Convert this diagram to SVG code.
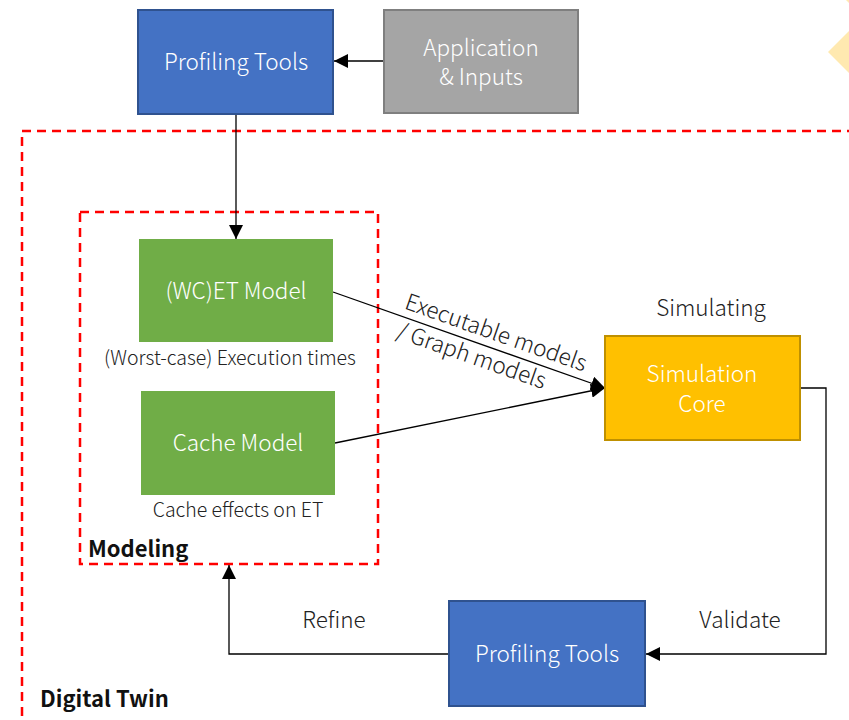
<svg xmlns="http://www.w3.org/2000/svg" width="849" height="720" viewBox="0 0 849 720">
<defs>
<style>
.t{font-family:"Noto Sans CJK SC","Noto Sans",sans-serif;font-weight:300;}
.w{fill:#ffffff;font-size:22.5px;text-anchor:middle;}
.k{fill:#222222;text-anchor:middle;}
.b{font-family:"Noto Sans CJK SC","Noto Sans",sans-serif;font-weight:700;font-size:22px;fill:#111;}
.dash{fill:none;stroke:#FF0000;stroke-width:2.5;stroke-dasharray:9,6;}
.c{fill:none;stroke:#000;stroke-width:1.3;}
</style>
<marker id="ah2" viewBox="0 0 10 10" refX="10" refY="5" markerWidth="14" markerHeight="14" markerUnits="userSpaceOnUse" orient="auto">
<path d="M0,0 L10,5 L0,10 z" fill="#000"/>
</marker>
</defs>
<rect width="849" height="720" fill="#fff"/>
<polygon points="828,52 849,31 849,73" fill="#FFE9B0"/>
<polygon points="846,0 849,0 849,3" fill="#FFE9B0"/>

<g id="frames">
<rect class="dash" x="22" y="131" width="850" height="620"/>
<rect class="dash" x="80" y="212" width="298" height="352"/>
<text class="b" x="88" y="557">Modeling</text>
<text class="b" x="40" y="707">Digital Twin</text>
</g>

<g id="connectors">
<line class="c" x1="384" y1="61" x2="334" y2="61" marker-end="url(#ah2)"/>
<line class="c" x1="236" y1="114" x2="236" y2="239" marker-end="url(#ah2)"/>
<line class="c" x1="333" y1="292" x2="605" y2="388" marker-end="url(#ah2)"/>
<line class="c" x1="335" y1="443" x2="605" y2="388" marker-end="url(#ah2)"/>
<polyline class="c" points="800,388 826,388 826,654 646,654" marker-end="url(#ah2)"/>
<polyline class="c" points="449,654 229,654 229,565" marker-end="url(#ah2)"/>
<g transform="translate(333,292) rotate(19.4)">
<text class="t" fill="#222" x="72" y="-8" font-size="22.5">Executable models</text>
<text class="t" fill="#222" x="74" y="22" font-size="22.5">/ Graph models</text>
</g>
<text class="t k" x="334" y="628" font-size="22.5">Refine</text>
<text class="t k" x="740" y="628" font-size="22.5">Validate</text>
</g>

<g id="profiling-top">
<rect x="138" y="10" width="195" height="104" fill="#4472C4" stroke="#2F528F" stroke-width="2"/>
<text class="t w" x="236" y="70">Profiling Tools</text>
</g>
<g id="application">
<rect x="384" y="10" width="194" height="103" fill="#A5A5A5" stroke="#7F7F7F" stroke-width="2"/>
<text class="t w" x="481" y="56">Application</text>
<text class="t w" x="481" y="85">&amp; Inputs</text>
</g>
<g id="wcet">
<rect x="139" y="239" width="194" height="103" fill="#70AD47"/>
<text class="t w" x="236" y="299">(WC)ET Model</text>
<text class="t k" x="230" y="365" font-size="19.5">(Worst-case) Execution times</text>
</g>
<g id="cache">
<rect x="141" y="391" width="194" height="104" fill="#70AD47"/>
<text class="t w" x="238" y="451">Cache Model</text>
<text class="t k" x="238" y="517" font-size="19.5">Cache effects on ET</text>
</g>
<g id="simcore">
<text class="t k" x="711" y="316" font-size="22.5">Simulating</text>
<rect x="605" y="336" width="195" height="104" fill="#FFC000" stroke="#BF9000" stroke-width="2"/>
<text class="t w" x="702" y="382">Simulation</text>
<text class="t w" x="702" y="412">Core</text>
</g>
<g id="profiling-bottom">
<rect x="449" y="601" width="196" height="105" fill="#4472C4" stroke="#2F528F" stroke-width="2"/>
<text class="t w" x="547" y="662">Profiling Tools</text>
</g>
</svg>
